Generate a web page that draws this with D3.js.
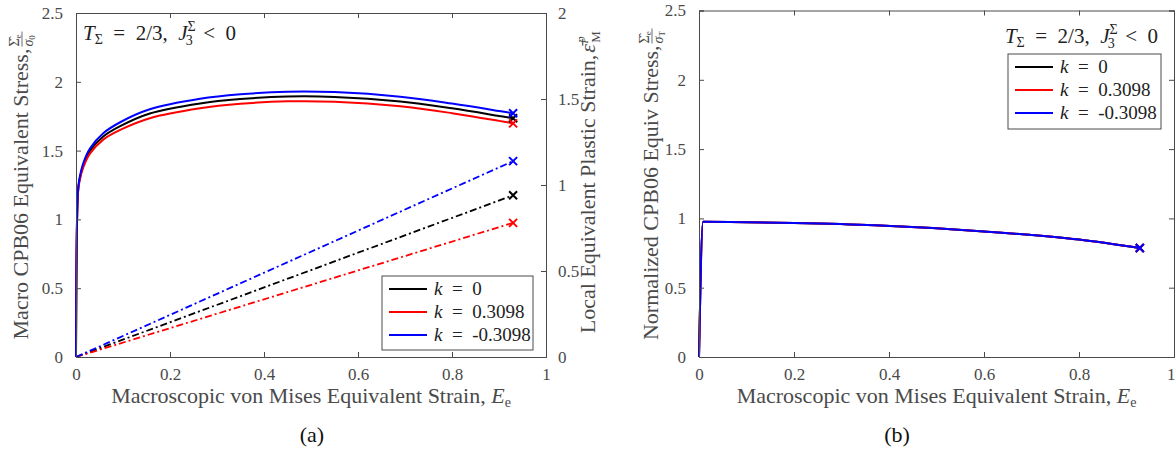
<!DOCTYPE html>
<html>
<head>
<meta charset="utf-8">
<script src="https://cdn.jsdelivr.net/npm/d3@7"></script>
<style>
  body { margin: 0; background: #fff; }
  svg { font-family: "Liberation Serif", "Times New Roman", serif; }
</style>
</head>
<body>
<svg width="1175" height="452"></svg>
<script>
// ---- data ----
var kLabels = ["0", "0.3098", "-0.3098"];
var kColors = ["#000000", "#ff0000", "#0000ff"];

// (a) macro equivalent stress vs macroscopic strain
var strainA = [0, 0.004, 0.007, 0.0156, 0.03, 0.058, 0.094, 0.157, 0.264, 0.35, 0.45, 0.55, 0.69, 0.8, 0.9, 0.93];
var stressK0   = [0, 1.19, 1.28, 1.395, 1.50, 1.603, 1.678, 1.77, 1.843, 1.875, 1.893, 1.89, 1.857, 1.807, 1.752, 1.735];
var stressKPos = [0, 1.18, 1.27, 1.38, 1.48, 1.58, 1.65, 1.735, 1.807, 1.84, 1.858, 1.855, 1.822, 1.772, 1.716, 1.698];
var stressKNeg = [0, 1.20, 1.29, 1.41, 1.517, 1.626, 1.706, 1.80, 1.876, 1.909, 1.928, 1.925, 1.892, 1.842, 1.788, 1.771];

// (a) local plastic strain (right axis)
var strainLocal = [0, 0.477, 0.93];
var plasticK0   = [0, 0.482, 0.94];
var plasticKPos = [0, 0.40, 0.78];
var plasticKNeg = [0, 0.584, 1.139];

// (b) normalized equivalent stress
var strainB = [0, 0.0085, 0.2, 0.37, 0.6, 0.8, 0.928];
var normK0   = [0, 0.975, 0.966, 0.95, 0.906, 0.847, 0.786];
var normKPos = [0, 0.975, 0.966, 0.95, 0.906, 0.847, 0.786];
var normKNeg = [0, 0.975, 0.966, 0.95, 0.906, 0.847, 0.786];

var xTicks = [0, 0.2, 0.4, 0.6, 0.8, 1];
var yTicksStress = [0, 0.5, 1, 1.5, 2, 2.5];
var yTicksPlastic = [0, 0.5, 1, 1.5, 2];

var svg = d3.select("svg");
var axisColor = "#4a4a4a";
var mathSp = "\u2002";

function zip(xs, ys) { return xs.map(function(x, i) { return [x, ys[i]]; }); }

function fmt(d) { return d3.format("~g")(d); }

function boxAxes(g, x, y, w, h, yRight) {
  g.append("g").attr("class", "x-bottom").attr("transform", "translate(0," + h + ")")
    .call(d3.axisBottom(x).tickValues(xTicks).tickSize(-5).tickPadding(11).tickFormat(fmt));
  g.append("g")
    .call(d3.axisTop(x).tickValues(xTicks).tickSize(-5).tickFormat(""));
  g.append("g")
    .call(d3.axisLeft(y).tickValues(yTicksStress).tickSize(-5).tickPadding(13).tickFormat(fmt));
  if (yRight) {
    g.append("g").attr("transform", "translate(" + w + ",0)")
      .call(d3.axisRight(yRight).tickValues(yTicksPlastic).tickSize(-5).tickPadding(12).tickFormat(fmt));
  } else {
    g.append("g").attr("transform", "translate(" + w + ",0)")
      .call(d3.axisRight(y).tickValues(yTicksStress).tickSize(-5).tickFormat(""));
  }
  g.selectAll(".domain").attr("stroke", axisColor).attr("stroke-width", 1);
  g.selectAll(".tick line").attr("stroke", axisColor);
  g.selectAll(".tick text").attr("fill", axisColor).attr("font-size", 17)
    .attr("font-family", "Liberation Serif");
}

function xMark(g, cx, cy, color) {
  var s = 4;
  g.append("path")
    .attr("d", "M" + (cx - s) + "," + (cy - s) + "L" + (cx + s) + "," + (cy + s) +
               "M" + (cx - s) + "," + (cy + s) + "L" + (cx + s) + "," + (cy - s))
    .attr("stroke", color).attr("stroke-width", 2).attr("fill", "none");
}

function xLabel(g, cx, y) {
  var t = g.append("text").attr("x", cx).attr("y", y).attr("text-anchor", "middle")
    .attr("font-size", 22).attr("fill", axisColor);
  t.append("tspan").text("Macroscopic von Mises Equivalent Strain, ");
  t.append("tspan").attr("font-style", "italic").text("E");
  t.append("tspan").attr("font-size", 14).attr("dy", 4).text("e");
}

// rotated y label ending in a small stacked fraction
function yLabel(g, x, y, main, num, numSub, den, denSub, stackSup) {
  var lg = g.append("g").attr("transform", "translate(" + x + "," + y + ") rotate(-90)");
  var t = lg.append("text").attr("font-size", 22).attr("fill", axisColor).text(main);
  var w = t.node().getComputedTextLength();
  var fw = 18;
  var start = -(w + fw) / 2;
  t.attr("x", start);
  var fx = start + w + 2;
  if (stackSup) {
    lg.append("text").attr("x", fx).attr("fill", axisColor).attr("font-size", 22)
      .attr("font-style", "italic").text(num);
    lg.append("text").attr("x", fx + 10).attr("y", -10).attr("font-size", 13)
      .attr("fill", axisColor).attr("font-style", "italic").text(numSub);
    lg.append("text").attr("x", fx + 10).attr("y", 5).attr("font-size", 13)
      .attr("fill", axisColor).text(denSub);
    return;
  }
  var n = lg.append("text").attr("x", fx).attr("y", -9).attr("font-size", 14).attr("fill", axisColor);
  n.append("tspan").text(num);
  n.append("tspan").attr("font-size", 9).attr("dy", 2).text(numSub);
  lg.append("line").attr("x1", fx).attr("x2", fx + 15).attr("y1", -6).attr("y2", -6)
    .attr("stroke", axisColor).attr("stroke-width", 0.8);
  var dn = lg.append("text").attr("x", fx).attr("y", 5).attr("font-size", 14).attr("fill", axisColor);
  dn.append("tspan").attr("font-style", "italic").text(den);
  dn.append("tspan").attr("font-size", 9).attr("dy", 2).text(denSub);
}

function annotation(g, x, y, anchor) {
  var t = g.append("text").attr("x", x).attr("y", y).attr("font-size", 21)
    .attr("fill", "#222").attr("text-anchor", anchor);
  t.append("tspan").attr("font-style", "italic").text("T");
  t.append("tspan").attr("font-size", 14).attr("dy", 4).text("Σ");
  t.append("tspan").attr("dy", -4).text(mathSp + "=" + mathSp + "2/3," + mathSp);
  t.append("tspan").attr("font-style", "italic").text("J");
  t.append("tspan").attr("font-size", 14).attr("dy", -9).text("Σ");
  t.append("tspan").attr("font-size", 14).attr("dx", -10).attr("dy", 14).text("3");
  t.append("tspan").attr("dy", -5).text(mathSp + "<" + mathSp + "0");
}

function legend(g, x0, y0, w, h) {
  g.append("rect").attr("x", x0).attr("y", y0).attr("width", w).attr("height", h)
    .attr("fill", "#fff").attr("stroke", axisColor).attr("stroke-width", 1);
  kLabels.forEach(function(k, i) {
    var yy = y0 + 13 + i * 23;
    g.append("line").attr("x1", x0 + 7).attr("x2", x0 + 45).attr("y1", yy).attr("y2", yy)
      .attr("stroke", kColors[i]).attr("stroke-width", 2);
    var t = g.append("text").attr("x", x0 + 52).attr("y", yy + 6).attr("font-size", 19).attr("fill", "#222");
    t.append("tspan").attr("font-style", "italic").text("k");
    t.append("tspan").text(mathSp + "=" + mathSp + k);
  });
}

// ---------- panel (a) ----------
var aL = 76, aR = 546, aT = 13, aB = 357;
var wA = aR - aL, hA = aB - aT;
var gA = svg.append("g").attr("transform", "translate(" + aL + "," + aT + ")");
var xA = d3.scaleLinear().domain([0, 1]).range([0, wA]);
var yA = d3.scaleLinear().domain([0, 2.5]).range([hA, 0]);
var yA2 = d3.scaleLinear().domain([0, 2]).range([hA, 0]);

var lineA = d3.line().x(function(d) { return xA(d[0]); }).y(function(d) { return yA(d[1]); })
  .curve(d3.curveCatmullRom.alpha(0.5));
var lineA2 = d3.line().x(function(d) { return xA(d[0]); }).y(function(d) { return yA2(d[1]); });

var stressSeries = [stressK0, stressKPos, stressKNeg];
var plasticSeries = [plasticK0, plasticKPos, plasticKNeg];

plasticSeries.forEach(function(vals, i) {
  gA.append("path").datum(zip(strainLocal, vals))
    .attr("d", lineA2).attr("fill", "none").attr("stroke", kColors[i])
    .attr("stroke-width", 1.8).attr("stroke-dasharray", "7,3,2,3");
});
stressSeries.forEach(function(vals, i) {
  gA.append("path").datum(zip(strainA, vals))
    .attr("d", lineA).attr("fill", "none").attr("stroke", kColors[i]).attr("stroke-width", 2);
});
plasticSeries.forEach(function(vals, i) {
  var n = vals.length - 1;
  xMark(gA, xA(strainLocal[n]), yA2(vals[n]), kColors[i]);
});
stressSeries.forEach(function(vals, i) {
  var n = vals.length - 1;
  xMark(gA, xA(strainA[n]), yA(vals[n]), kColors[i]);
});

boxAxes(gA, xA, yA, wA, hA, yA2);
annotation(svg, 83, 40, "start");
legend(svg, 382, 276, 151, 74);
xLabel(svg, (aL + aR) / 2, 403);
yLabel(svg, 28, (aT + aB) / 2, "Macro CPB06 Equivalent Stress, ", "Σ̂", "e", "σ", "0");
yLabel(svg, 595, (aT + aB) / 2, "Local Equivalent Plastic Strain, ", "ε̄", "p", "", "M", true);
svg.append("text").attr("x", 312).attr("y", 442).attr("text-anchor", "middle")
  .attr("font-size", 22).attr("fill", "#111").text("(a)");

// ---------- panel (b) ----------
var bL = 699, bR = 1174, bT = 10.5, bB = 357;
var wB = bR - bL, hB = bB - bT;
var gB = svg.append("g").attr("transform", "translate(" + bL + "," + bT + ")");
var xB = d3.scaleLinear().domain([0, 1]).range([0, wB]);
var yB = d3.scaleLinear().domain([0, 2.5]).range([hB, 0]);
var lineB = d3.line().x(function(d) { return xB(d[0]); }).y(function(d) { return yB(d[1]); })
  .curve(d3.curveMonotoneX);

[normK0, normKPos, normKNeg].forEach(function(vals, i) {
  gB.append("path").datum(zip(strainB, vals))
    .attr("d", lineB).attr("fill", "none").attr("stroke", kColors[i]).attr("stroke-width", 2);
  var n = vals.length - 1;
  xMark(gB, xB(strainB[n]), yB(vals[n]), kColors[i]);
});

boxAxes(gB, xB, yB, wB, hB, null);
// keep the last x tick label inside the window
gB.select(".x-bottom").selectAll(".tick text").filter(function(d) { return d === 1; })
  .attr("text-anchor", "end").attr("x", 1);
annotation(svg, 1158, 43, "end");
legend(svg, 1008, 54, 153, 75);
xLabel(svg, (bL + bR) / 2, 403);
yLabel(svg, 658, (bT + bB) / 2, "Normalized CPB06 Equiv Stress, ", "Σ̂", "e", "σ", "T");
svg.append("text").attr("x", 897).attr("y", 442).attr("text-anchor", "middle")
  .attr("font-size", 22).attr("fill", "#111").text("(b)");
</script>
</body>
</html>
